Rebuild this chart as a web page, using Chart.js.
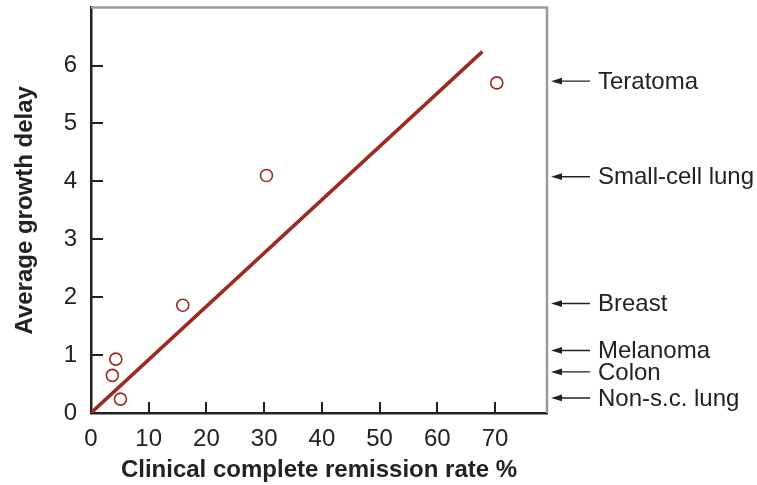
<!DOCTYPE html>
<html><head><meta charset="utf-8">
<script src="https://cdn.jsdelivr.net/npm/chart.js@4.4.1/dist/chart.umd.min.js"></script>
<style>html,body{margin:0;padding:0;background:#fff}#wrap{width:757px;height:485px}</style>
</head><body><div id="wrap"><canvas id="c" width="757" height="485"></canvas></div>
<script>
const remissionRate = [4.3, 3.7, 5.1, 15.9, 30.4, 70.3];
const growthDelay = [0.93, 0.65, 0.24, 1.86, 4.10, 5.70];
const fitX = [0, 67.8];
const fitY = [0, 6.24];
const tumourLabels = ['Teratoma', 'Small-cell lung', 'Breast', 'Melanoma', 'Colon', 'Non-s.c. lung'];
const tumourLevels = [5.73, 4.08, 1.89, 1.08, 0.71, 0.26];
const xTicks = [0, 10, 20, 30, 40, 50, 60, 70];
const yTicks = [0, 1, 2, 3, 4, 5, 6];

const RED = '#9c2a21';
const FONT = '"Liberation Sans", Arial, Helvetica, sans-serif';

const framePlugin = {
  id: 'frame',
  afterDraw(chart) {
    const {ctx, chartArea: a, scales: {x, y}} = chart;
    ctx.save();
    ctx.strokeStyle = '#9a9a9a';
    ctx.lineWidth = 2.5;
    ctx.beginPath();
    ctx.moveTo(a.left, a.top); ctx.lineTo(a.right, a.top); ctx.lineTo(a.right, a.bottom);
    ctx.stroke();
    ctx.strokeStyle = '#222';
    ctx.lineWidth = 2;
    ctx.beginPath();
    yTicks.forEach(v => { if (v === 0) return; const py = Math.round(y.getPixelForValue(v)); ctx.moveTo(a.left, py); ctx.lineTo(a.left + 12, py); });
    xTicks.forEach(v => { if (v === 0) return; const px = Math.round(x.getPixelForValue(v)); ctx.moveTo(px, a.bottom); ctx.lineTo(px, a.bottom - 11); });
    ctx.stroke();
    ctx.fillStyle = '#222';
    ctx.strokeStyle = '#222';
    ctx.lineWidth = 1.4;
    ctx.font = '24px ' + FONT;
    ctx.textBaseline = 'middle';
    ctx.textAlign = 'left';
    tumourLabels.forEach((lab, i) => {
      const py = y.getPixelForValue(tumourLevels[i]);
      const x0 = a.right + 4, x1 = a.right + 43;
      ctx.beginPath(); ctx.moveTo(x0 + 6, py); ctx.lineTo(x1, py); ctx.stroke();
      ctx.beginPath(); ctx.moveTo(x0, py); ctx.lineTo(x0 + 11, py - 3.4); ctx.lineTo(x0 + 11, py + 3.4); ctx.closePath(); ctx.fill();
      ctx.fillText(lab, a.right + 51, py + 1);
    });
    ctx.restore();
  }
};

new Chart(document.getElementById('c'), {
  type: 'scatter',
  data: {
    datasets: [
      {
        type: 'line',
        data: fitX.map((v, i) => ({x: v, y: fitY[i]})),
        borderColor: RED, borderWidth: 3.5, pointRadius: 0, fill: false, order: 2
      },
      {
        data: remissionRate.map((v, i) => ({x: v, y: growthDelay[i]})),
        pointStyle: 'circle', pointRadius: 6, pointBorderWidth: 1.6,
        pointBorderColor: RED, pointBackgroundColor: 'rgba(255,255,255,0)', order: 1
      }
    ]
  },
  options: {
    responsive: false, animation: false, devicePixelRatio: 1,
    layout: {padding: {top: 6, right: 210, left: 0, bottom: 0}},
    plugins: {legend: {display: false}, tooltip: {enabled: false}},
    scales: {
      x: {
        type: 'linear', min: 0, max: 79,
        afterBuildTicks(s) { s.ticks = xTicks.map(v => ({value: v})); },
        afterFit(s) { s.height = 72; s.paddingLeft = 0; s.paddingRight = 0; },
        grid: {display: false, drawTicks: false},
        border: {display: true, color: '#222', width: 2.5},
        ticks: {color: '#222', font: {family: FONT, size: 24}, padding: 12, maxRotation: 0},
        title: {display: true, text: 'Clinical complete remission rate %', color: '#222',
          font: {family: FONT, size: 24, weight: 'bold'}, padding: {top: 0, bottom: 0}}
      },
      y: {
        type: 'linear', min: 0, max: 7,
        afterBuildTicks(s) { s.ticks = yTicks.map(v => ({value: v})); },
        afterFit(s) { s.width = 91; s.paddingTop = 0; s.paddingBottom = 0; },
        grid: {display: false, drawTicks: false},
        border: {display: true, color: '#222', width: 2.5},
        ticks: {color: '#222', font: {family: FONT, size: 24}, padding: 14},
        title: {display: true, text: 'Average growth delay', color: '#222',
          font: {family: FONT, size: 24, weight: 'bold'}, padding: {top: 11, bottom: 0}}
      }
    }
  },
  plugins: [framePlugin]
});
</script></body></html>
